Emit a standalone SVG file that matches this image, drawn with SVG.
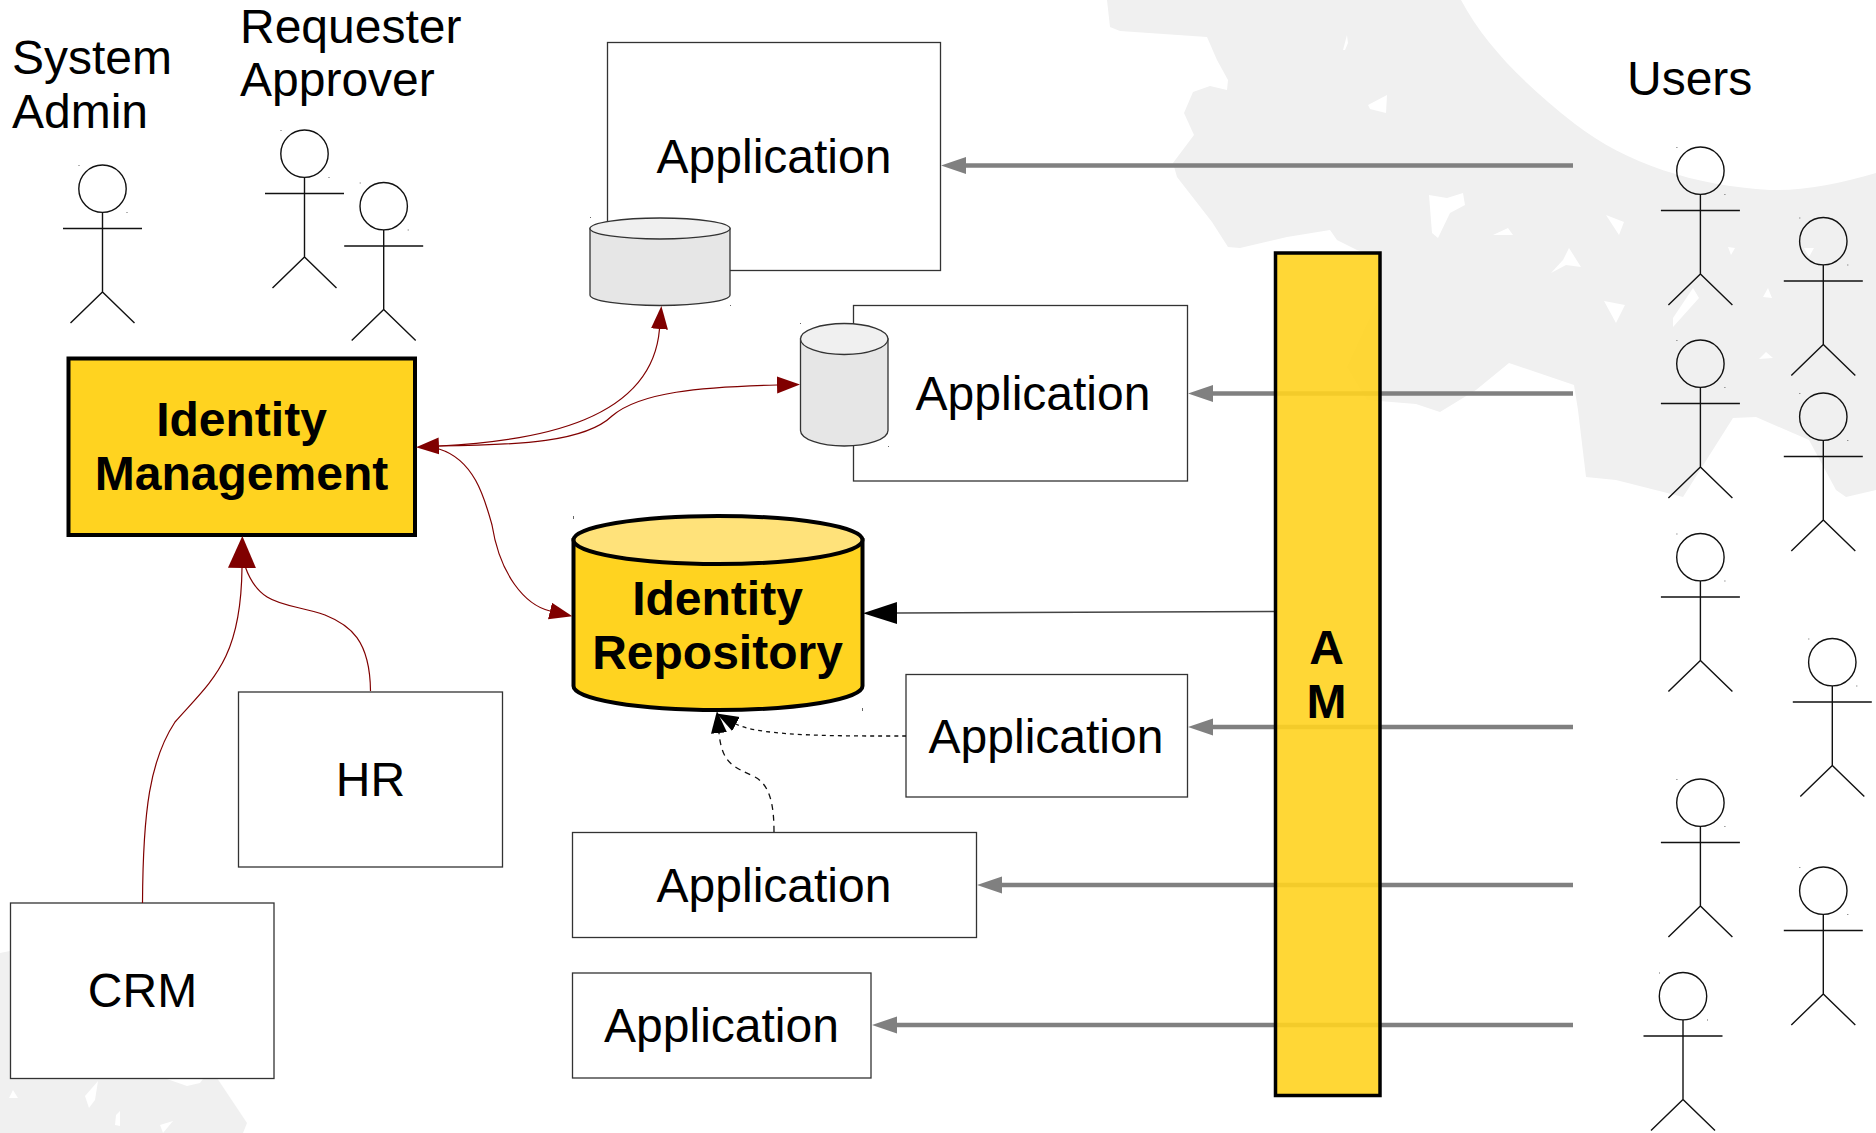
<svg xmlns="http://www.w3.org/2000/svg" xmlns:xlink="http://www.w3.org/1999/xlink" width="1876" height="1133" viewBox="0 0 1876 1133">
<style>
text{font-family:"Liberation Sans",Arial,sans-serif;font-size:48px;fill:#000}
.c{text-anchor:middle}
.b{font-weight:700}
.box{fill:#fff;stroke:#333;stroke-width:1.3}
.act{fill:none;stroke:#111;stroke-width:1.4}
.speck{fill:#666}
.red{fill:none;stroke:#800000;stroke-width:1.2}
.gray{fill:none;stroke:#808080;stroke-width:4.5;marker-end:url(#hGray)}
.dash{fill:none;stroke:#111;stroke-width:1.3}
.cyl{fill:#e6e6e6;stroke:#333;stroke-width:1.3}
.cylTop{fill:#f0f0f0;stroke:#333;stroke-width:1.3}
.yel{fill:#ffd320;stroke:#000;stroke-width:4}
</style>
<defs>
<marker id="hRed" markerUnits="userSpaceOnUse" markerWidth="25" markerHeight="19" refX="0" refY="8.5" orient="auto-start-reverse"><path d="M0 0L23 8.500L0 17Z" fill="#800000"/></marker>
<marker id="hRedBig" markerUnits="userSpaceOnUse" markerWidth="34" markerHeight="30" refX="0" refY="14" orient="auto"><path d="M0 0L32 14L0 28Z" fill="#800000"/></marker>
<marker id="hGray" markerUnits="userSpaceOnUse" markerWidth="27" markerHeight="19" refX="0" refY="8.5" orient="auto"><path d="M0 0L25 8.500L0 17Z" fill="#808080"/></marker>
<marker id="hBlack" markerUnits="userSpaceOnUse" markerWidth="36" markerHeight="24" refX="0" refY="11" orient="auto"><path d="M0 0L34 11L0 22Z" fill="#000"/></marker>
<marker id="hBlackS" markerUnits="userSpaceOnUse" markerWidth="24" markerHeight="18" refX="0" refY="8" orient="auto"><path d="M0 0L22 8L0 16Z" fill="#000"/></marker>
<g id="actor">
<circle class="act" cx="0" cy="23.7" r="23.7"/>
<path class="act" d="M0 47.400V127M-39.500 63.500H39.500M-32 158L0 127L32 158"/>
<rect class="speck" x="-24" y="0" width="1" height="1"/><rect class="speck" x="24" y="47" width="1" height="1"/>
</g>
</defs>
<rect width="1876" height="1133" fill="#fff"/>
<g id="background" fill="#f0f0f0" fill-rule="evenodd">
<path d="M1107 0L1110 27L1120 31L1207 37L1217 60L1228 80L1227 90L1210 86L1193 92L1184 113L1194 135L1173 163L1177 177L1212 222L1228 247L1240 248L1287 237L1330 230L1337 240L1357 250L1375 255L1378 300L1347 367L1367 400L1416 404L1440 412L1476 390L1509 363L1574 385L1578 410L1586 477L1616 480L1683 497L1733 418L1756 417L1809 440L1836 490L1846 497L1876 490V173C1840 184 1800 191 1770 190C1695 186 1625 163 1575 124C1525 85 1485 45 1461 0Z
M1347 35L1348 43L1345 50L1343 50Z
M1387 95L1386 113L1370 109L1368 105Z
M1429 195L1447 198L1463 193L1465 205L1450 213L1438 238L1432 233Z
M1606 215L1624 222L1619 235Z
M1508 228L1513 235L1493 235Z
M1569 248L1581 267L1566 265L1551 273L1563 260Z
M1604 301L1625 305L1616 323Z
M1728 247L1735 248L1731 255Z
M1693 288L1699 298L1673 327L1673 318Z
M1768 288L1772 298L1763 297Z
M1804 248L1814 248L1809 257Z
M1766 352L1773 358L1759 359Z"/>
<path d="M0 953L10 951L40 1000L217 1078L247 1123L243 1133H0Z
M13 1090L18 1098L9 1098Z
M98 1081L95 1100L89 1108L85 1096Z
M120 1111L120 1126L115 1125L116 1115Z
M160 1125L173 1121L163 1133Z
M167 1079L187 1086L200 1083L203 1079Z"/>
</g>
<g id="app1"><rect class="box" x="607.500" y="42.500" width="333" height="228"/><text class="c" x="774" y="173">Application</text></g>
<g id="app2"><rect class="box" x="853.500" y="305.500" width="334" height="175.500"/><text class="c" x="1033" y="410">Application</text></g>
<g id="app3"><rect class="box" x="906" y="674.500" width="281.500" height="122.500"/><text class="c" x="1046" y="753">Application</text></g>
<g id="app4"><rect class="box" x="572.500" y="832.500" width="404" height="105"/><text class="c" x="774" y="902">Application</text></g>
<g id="app5"><rect class="box" x="572.500" y="973" width="298.500" height="105"/><text class="c" x="721.500" y="1042">Application</text></g>
<g id="hr"><rect class="box" x="238.500" y="692" width="264" height="175"/><text class="c" x="370.500" y="796">HR</text></g>
<g id="crm"><rect class="box" x="10.500" y="903" width="263.500" height="175.500"/><text class="c" x="142.500" y="1007">CRM</text></g>
<g id="db1"><path class="cyl" d="M590 228.500V295A70 10.500 0 0 0 730 295V228.500Z"/><ellipse class="cylTop" cx="660" cy="228.500" rx="70" ry="10.500"/><rect class="speck" x="590" y="217" width="1" height="1"/><rect class="speck" x="730" y="305" width="1" height="1"/></g>
<g id="db2"><path class="cyl" d="M800.500 339V430.500A43.750 15.500 0 0 0 888 430.500V339Z"/><ellipse class="cylTop" cx="844.250" cy="339" rx="43.750" ry="15.500"/><rect class="speck" x="800" y="323" width="1" height="1"/><rect class="speck" x="888" y="446" width="1" height="1"/></g>
<g id="identity-management"><rect class="yel" x="68.500" y="358.500" width="346.500" height="176.500"/><text class="c b" x="241.500" y="436">Identity</text><text class="c b" x="241.500" y="490">Management</text></g>
<g id="identity-repository"><path class="yel" d="M573.500 540V686A144.500 24 0 0 0 862.500 686V540Z"/><ellipse cx="718" cy="540" rx="144.500" ry="24" fill="#ffe27a" stroke="#000" stroke-width="4"/><text class="c b" x="717.500" y="615">Identity</text><text class="c b" x="717.500" y="669">Repository</text><rect class="speck" x="573" y="516" width="1" height="3"/><rect class="speck" x="862" y="708" width="1" height="3"/></g>
<g id="connectors">
<path class="red" marker-start="url(#hRed)" marker-end="url(#hRed)" d="M439 446C540 441 652 420 659.500 329"/>
<path class="red" marker-end="url(#hRed)" d="M439 446C520 445 585 442 612 416C640 392 700 387 777 385"/>
<path class="red" marker-end="url(#hRed)" d="M439 449C475 460 485 500 492 525C500 575 525 605 550 611"/>
<path class="red" marker-end="url(#hRedBig)" d="M142.500 903C143 810 150 760 175 722C212 680 241 660 242 568"/>
<path class="red" d="M370.500 691C370 640 350 625 325 615C290 602 260 610 245 566"/>
<path class="gray" d="M1573 165.500H966"/>
<path class="gray" d="M1573 393.500H1213"/>
<path class="gray" d="M1573 727H1213"/>
<path class="gray" d="M1573 885H1002"/>
<path class="gray" d="M1573 1025H897"/>
<path fill="none" stroke="#444" stroke-width="1.500" marker-end="url(#hBlack)" d="M1275 611.500L897 613"/>
<path class="dash" stroke-dasharray="4 4" marker-end="url(#hBlackS)" d="M906 736C850 736 760 737 736 724"/>
<path class="dash" stroke-dasharray="6 5" marker-end="url(#hBlackS)" d="M774 832C774 805 770 785 755 777C735 767 722 765 719 733"/>
</g>
<g id="am"><rect x="1275.500" y="253" width="104.500" height="842.500" fill="#ffd320" fill-opacity=".9" stroke="#000" stroke-width="3.500"/><text class="c b" x="1326.500" y="664">A</text><text class="c b" x="1326.500" y="718">M</text></g>
<g id="actor-admin"><use href="#actor" xlink:href="#actor" x="102.500" y="165"/></g>
<g id="actor-requester"><use href="#actor" xlink:href="#actor" x="304.500" y="130"/></g>
<g id="actor-approver"><use href="#actor" xlink:href="#actor" x="383.700" y="182.500"/></g>
<g id="user1"><use href="#actor" xlink:href="#actor" x="1700.400" y="147"/></g>
<g id="user2"><use href="#actor" xlink:href="#actor" x="1823.300" y="217.500"/></g>
<g id="user3"><use href="#actor" xlink:href="#actor" x="1700.400" y="340"/></g>
<g id="user4"><use href="#actor" xlink:href="#actor" x="1823.300" y="393"/></g>
<g id="user5"><use href="#actor" xlink:href="#actor" x="1700.400" y="533.500"/></g>
<g id="user6"><use href="#actor" xlink:href="#actor" x="1832.300" y="638.500"/></g>
<g id="user7"><use href="#actor" xlink:href="#actor" x="1700.400" y="779"/></g>
<g id="user8"><use href="#actor" xlink:href="#actor" x="1823.300" y="867"/></g>
<g id="user9"><use href="#actor" xlink:href="#actor" x="1683" y="972.500"/></g>
<g id="labels">
<text x="12" y="74">System</text><text x="12" y="128">Admin</text>
<text x="240" y="43">Requester</text><text x="240" y="96">Approver</text>
<text x="1627" y="95">Users</text>
</g>
</svg>
